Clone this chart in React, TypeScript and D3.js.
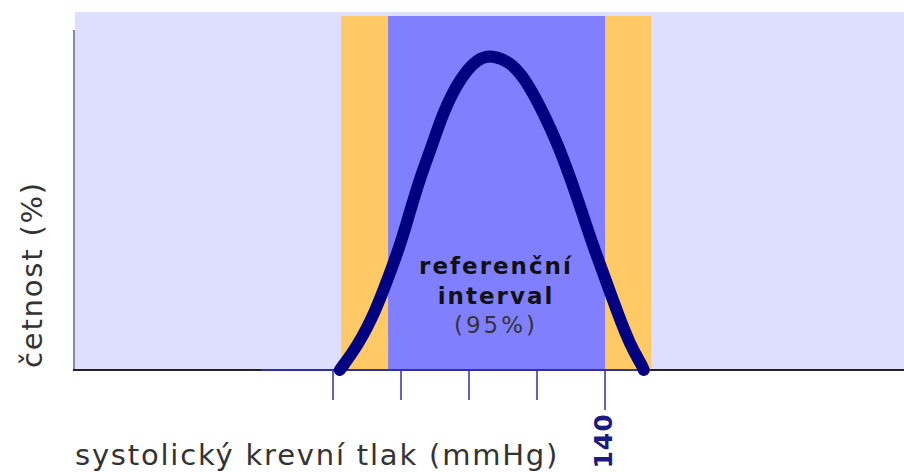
import React, { useRef, useEffect } from "react";
import * as d3 from "d3";

// tlak (mmHg) a relativní četnost (% maxima) odečtené z křivky
const pressure = [101.0, 103.7, 106.2, 108.1, 109.9, 111.3, 112.8, 114.6, 116.2, 118.7, 121.3, 123.4, 126.0, 128.2, 130.9, 133.1, 134.9, 136.6, 138.2, 140.0, 141.8, 143.7, 145.4, 145.7];
const frequency = [0, 7.9, 18.4, 29.2, 39.7, 50.2, 61.0, 71.4, 81.9, 92.7, 99.0, 100, 97.8, 92.7, 81.9, 71.4, 61.0, 50.2, 39.7, 29.2, 18.4, 7.9, 1.6, 0];

const tickValues = [100, 110, 120, 130, 140];
const labeledTick = 140;
const outerBand = [101.2, 146.8];
const refInterval = [108.1, 140];
const tailRange = [89.5, 146.8];

const xTitle = "systolický krevní tlak (mmHg)";
const yTitle = "četnost (%)";
const bandLabel = ["referenční", "interval", "(95%)"];

const W = 904;
const H = 472;
const FONT = "'DejaVu Sans', Verdana, sans-serif";

export default function App() {
  const svgRef = useRef<SVGSVGElement>(null);

  useEffect(() => {
    if (!svgRef.current) return;
    const svg = d3.select(svgRef.current);
    svg.selectAll("*").remove();

    const x = d3.scaleLinear().domain([100, 140]).range([333, 605]);
    const y = d3.scaleLinear().domain([0, 100]).range([370, 55]);
    const x0 = 74;
    const yBase = y(0);

    // pozadí grafu
    svg
      .append("rect")
      .attr("x", x0 + 1)
      .attr("y", 12)
      .attr("width", W - x0 - 1)
      .attr("height", yBase - 12)
      .attr("fill", "#dedeff");

    // oranžový pás
    svg
      .append("rect")
      .attr("x", x(outerBand[0]))
      .attr("y", 16)
      .attr("width", x(outerBand[1]) - x(outerBand[0]))
      .attr("height", yBase - 16)
      .attr("fill", "#ffc966");

    // referenční interval
    svg
      .append("rect")
      .attr("x", x(refInterval[0]))
      .attr("y", 16)
      .attr("width", x(refInterval[1]) - x(refInterval[0]))
      .attr("height", yBase - 16)
      .attr("fill", "#8080ff");

    // osa y
    svg
      .append("line")
      .attr("x1", x0)
      .attr("x2", x0)
      .attr("y1", 30)
      .attr("y2", yBase + 1)
      .attr("stroke", "#8a8a9a")
      .attr("stroke-width", 2);

    // osa x
    svg
      .append("line")
      .attr("x1", x0 - 1)
      .attr("x2", W)
      .attr("y1", yBase)
      .attr("y2", yBase)
      .attr("stroke", "#222")
      .attr("stroke-width", 2);

    svg
      .append("line")
      .attr("x1", x(tailRange[0]))
      .attr("x2", x(tailRange[1]))
      .attr("y1", yBase)
      .attr("y2", yBase)
      .attr("stroke", "#3030a0")
      .attr("stroke-width", 2);

    // značky
    tickValues.forEach((t) => {
      svg
        .append("line")
        .attr("x1", x(t))
        .attr("x2", x(t))
        .attr("y1", yBase + 1)
        .attr("y2", t === labeledTick ? 410 : 400)
        .attr("stroke", "#6464c0")
        .attr("stroke-width", 2);
    });

    svg
      .append("text")
      .attr("transform", `translate(${x(labeledTick) + 7},441) rotate(-90)`)
      .attr("text-anchor", "middle")
      .style("font-family", FONT)
      .style("font-size", "25px")
      .style("font-weight", "bold")
      .style("letter-spacing", "1px")
      .style("fill", "#1a1a80")
      .text(String(labeledTick));

    // křivka
    const line = d3
      .line<number>()
      .x((_, i) => x(pressure[i]))
      .y((d) => y(d))
      .curve(d3.curveBasis);

    svg
      .append("path")
      .attr("d", line(frequency))
      .attr("fill", "none")
      .attr("stroke", "#000080")
      .attr("stroke-width", 12)
      .attr("stroke-linecap", "round")
      .attr("stroke-linejoin", "round");

    // popisek intervalu
    const cx = 496;
    const lbl = svg.append("g").style("font-family", FONT).attr("text-anchor", "middle");
    lbl
      .append("text")
      .attr("x", cx)
      .attr("y", 274)
      .style("font-size", "23px")
      .style("font-weight", "bold")
      .style("letter-spacing", "2px")
      .style("fill", "#111")
      .text(bandLabel[0]);
    lbl
      .append("text")
      .attr("x", cx)
      .attr("y", 304)
      .style("font-size", "23px")
      .style("font-weight", "bold")
      .style("letter-spacing", "2px")
      .style("fill", "#111")
      .text(bandLabel[1]);
    lbl
      .append("text")
      .attr("x", cx)
      .attr("y", 333)
      .style("font-size", "23px")
      .style("letter-spacing", "3px")
      .style("fill", "#333")
      .text(bandLabel[2]);

    // názvy os
    svg
      .append("text")
      .attr("x", 75)
      .attr("y", 465)
      .style("font-family", FONT)
      .style("font-size", "29px")
      .style("letter-spacing", "1.8px")
      .style("fill", "#333")
      .text(xTitle);

    svg
      .append("text")
      .attr("transform", "translate(42,368) rotate(-90)")
      .style("font-family", FONT)
      .style("font-size", "29px")
      .style("letter-spacing", "1.8px")
      .style("fill", "#333")
      .text(yTitle);
  }, []);

  return (
    <svg
      ref={svgRef}
      width={W}
      height={H}
      viewBox={`0 0 ${W} ${H}`}
      style={{ position: "absolute", left: 0, top: 0, background: "#fff" }}
    />
  );
}
